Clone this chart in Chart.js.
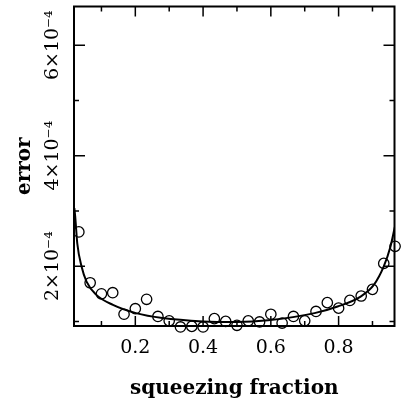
<!DOCTYPE html>
<html>
<head>
<meta charset="utf-8">
<script src="https://cdn.jsdelivr.net/npm/chart.js@4.4.1/dist/chart.umd.min.js"></script>
<style>
  html, body { margin: 0; padding: 0; background: #fff; }
  #wrap { width: 401px; height: 407px; }
</style>
</head>
<body>
<div id="wrap"><canvas id="c" width="401" height="407"></canvas></div>
<script>
// ---- data ----
const pointX = [0.0333,0.0667,0.1000,0.1333,0.1667,0.2000,0.2333,0.2667,0.3000,0.3333,
                0.3667,0.4000,0.4333,0.4667,0.5000,0.5333,0.5667,0.6000,0.6333,0.6667,
                0.7000,0.7333,0.7667,0.8000,0.8333,0.8667,0.9000,0.9333,0.9667];
const pointY = [2.62,1.70,1.50,1.52,1.13,1.23,1.40,1.09,1.01,0.90,
                0.91,0.90,1.05,1.00,0.93,1.01,0.99,1.13,0.97,1.09,
                1.01,1.18,1.34,1.24,1.38,1.46,1.58,2.05,2.36].map(v => v * 1e-4);
const curveX = [0.020,0.0225,0.025,0.0287,0.0415,0.056,0.085,0.134,0.202,0.280,0.400,0.500,
                0.592,0.729,0.797,0.865,0.904,0.933,0.953,0.966];
const curveY = [3.05,2.90,2.70,2.41,1.99,1.72,1.48,1.30,1.15,1.06,1.00,0.99,
                1.02,1.15,1.27,1.45,1.66,1.99,2.35,2.71].map(v => v * 1e-4);
const xMajorTicks = [0.2,0.4,0.6,0.8];
const xMinorTicks = [0.1,0.3,0.5,0.7,0.9];
const yMajorTicks = [2e-4,4e-4,6e-4];
const yMinorTicks = [1e-4,3e-4,5e-4];
const xRange = [0.019, 0.965];
const yRange = [0.917e-4, 6.70e-4];
const xTitle = 'squeezing fraction';
const yTitle = 'error';

const FONT = "'DejaVu Serif', serif";
const sup = {'0':'⁰','1':'¹','2':'²','3':'³','4':'⁴','5':'⁵','6':'⁶','7':'⁷','8':'⁸','9':'⁹','-':'⁻'};
function sci(v) {
  const m = Math.round(v * 1e4);
  return m + '×10' + '-4'.split('').map(c => sup[c]).join('');
}

const frame = {
  id: 'frame',
  beforeDatasetsDraw(chart) {
    const {ctx, chartArea: a, scales: {x, y}} = chart;
    ctx.save();
    ctx.strokeStyle = '#000';
    ctx.lineWidth = 1.5;
    ctx.beginPath();
    xMajorTicks.forEach(v => { const p = x.getPixelForValue(v);
      ctx.moveTo(p, a.bottom); ctx.lineTo(p, a.bottom - 10);
      ctx.moveTo(p, a.top); ctx.lineTo(p, a.top + 10); });
    xMinorTicks.forEach(v => { const p = x.getPixelForValue(v);
      ctx.moveTo(p, a.bottom); ctx.lineTo(p, a.bottom - 5);
      ctx.moveTo(p, a.top); ctx.lineTo(p, a.top + 5); });
    yMajorTicks.forEach(v => { const p = y.getPixelForValue(v);
      ctx.moveTo(a.left, p); ctx.lineTo(a.left + 11, p);
      ctx.moveTo(a.right, p); ctx.lineTo(a.right - 11, p); });
    yMinorTicks.forEach(v => { const p = y.getPixelForValue(v);
      ctx.moveTo(a.left, p); ctx.lineTo(a.left + 5, p);
      ctx.moveTo(a.right, p); ctx.lineTo(a.right - 5, p); });
    ctx.stroke();
    ctx.lineWidth = 2;
    ctx.strokeRect(a.left, a.top, a.right - a.left, a.bottom - a.top);
    ctx.restore();
  }
};

new Chart(document.getElementById('c'), {
  type: 'scatter',
  data: {
    datasets: [
      {
        type: 'line',
        data: curveX.map((v, i) => ({x: v, y: curveY[i]})),
        borderColor: '#000',
        borderWidth: 2,
        pointRadius: 0,
        cubicInterpolationMode: 'monotone',
        fill: false
      },
      {
        data: pointX.map((v, i) => ({x: v, y: pointY[i]})),
        borderColor: '#000',
        backgroundColor: 'rgba(0,0,0,0)',
        borderWidth: 1.3,
        pointRadius: 5.2,
        clip: false
      }
    ]
  },
  options: {
    responsive: false,
    animation: false,
    devicePixelRatio: 1,
    layout: { padding: { top: 4, right: 4, left: 0, bottom: 0 } },
    plugins: { legend: { display: false }, tooltip: { enabled: false } },
    scales: {
      x: {
        type: 'linear', min: xRange[0], max: xRange[1],
        afterBuildTicks: s => { s.ticks = xMajorTicks.map(v => ({value: v})); },
        afterFit: s => { s.height = 81; },
        grid: { display: false },
        border: { display: false },
        ticks: { color: '#000', font: { family: FONT, size: 19 }, padding: 3, maxRotation: 0,
                 callback: v => v.toFixed(1) },
        title: { display: true, text: xTitle, color: '#000', font: { family: FONT, size: 20, weight: 'bold' },
                 padding: { top: 0, bottom: 6 } }
      },
      y: {
        type: 'linear', min: yRange[0], max: yRange[1],
        afterBuildTicks: s => { s.ticks = yMajorTicks.map(v => ({value: v})); },
        afterFit: s => { s.width = 74; },
        grid: { display: false },
        border: { display: false },
        ticks: { color: '#000', font: { family: FONT, size: 19 }, minRotation: 90, maxRotation: 90,
                 crossAlign: 'center', padding: -22, callback: v => sci(v) },
        title: { display: true, text: yTitle, color: '#000', font: { family: FONT, size: 20, weight: 'bold' },
                 padding: { top: 13, bottom: 0 } }
      }
    }
  },
  plugins: [frame]
});
</script>
</body>
</html>
